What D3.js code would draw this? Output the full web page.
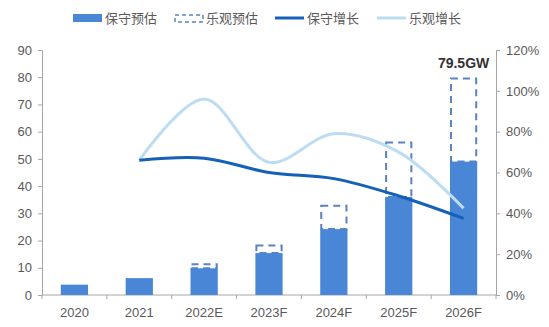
<!DOCTYPE html>
<html>
<head>
<meta charset="utf-8">
<script src="https://cdn.jsdelivr.net/npm/d3@7"></script>
<style>
    body { margin: 0; background: #fff; }
    svg { display: block; }
</style>
</head>
<body>
<svg id="my-svg"></svg>
<script>
const categories = ["2020", "2021", "2022E", "2023F", "2024F", "2025F", "2026F"];
const conservative = [3.8, 6.2, 9.8, 15.4, 24.2, 36, 49];
const optimistic = [null, null, 11.3, 18.2, 32.8, 56, 79.5];
const growthConservative = [null, 66, 67, 60, 57, 48.5, 37.5];
const growthOptimistic = [null, 66, 96, 65, 79, 70, 42.5];
const leftTicks = [0, 10, 20, 30, 40, 50, 60, 70, 80, 90];
const rightTicks = [0, 20, 40, 60, 80, 100, 120];
const legendNames = ["保守预估", "乐观预估", "保守增长", "乐观增长"];

const width = 549, height = 327;
const margin = { top: 50, right: 53, bottom: 32, left: 42 };
const innerWidth = width - margin.left - margin.right;
const innerHeight = height - margin.top - margin.bottom;

const barColor = "#4a86d6";
const dashColor = "#5b82c0";
const darkLine = "#1560b8";
const lightLine = "#bcdcf2";
const axisColor = "#a6a6a6";
const textColor = "#595959";

const svg = d3.select("#my-svg")
    .attr("width", width)
    .attr("height", height);

const g = svg.append("g")
    .attr("transform", `translate(${margin.left},${margin.top})`);

const x = d3.scaleBand()
    .domain(categories)
    .range([0, innerWidth])
    .paddingInner(0.58)
    .paddingOuter(0.29);

const band = d3.scaleBand().domain(categories).range([0, innerWidth]);

const y = d3.scaleLinear().domain([0, 90]).range([innerHeight, 0]);
const y2 = d3.scaleLinear().domain([0, 120]).range([innerHeight, 0]);

// axes
const xAxis = g.append("g")
    .attr("transform", `translate(0,${innerHeight})`);
xAxis.append("line")
    .attr("x1", 0).attr("x2", innerWidth)
    .attr("stroke", axisColor);
xAxis.selectAll(".tick")
    .data(d3.range(0, categories.length + 1))
    .enter().append("line")
    .attr("x1", i => i * band.bandwidth())
    .attr("x2", i => i * band.bandwidth())
    .attr("y1", 0).attr("y2", 4)
    .attr("stroke", axisColor);
xAxis.selectAll("text")
    .data(categories)
    .enter().append("text")
    .attr("x", d => band(d) + band.bandwidth() / 2)
    .attr("y", 22)
    .attr("text-anchor", "middle")
    .attr("font-family", "Liberation Sans, Arial, sans-serif")
    .attr("font-size", 13)
    .attr("fill", textColor)
    .text(d => d);

const yAxis = g.append("g")
    .call(d3.axisLeft(y).tickValues(leftTicks).tickSize(4).tickPadding(6).tickSizeOuter(4));
const y2Axis = g.append("g")
    .attr("transform", `translate(${innerWidth},0)`)
    .call(d3.axisRight(y2).tickValues(rightTicks).tickSize(4).tickPadding(6).tickSizeOuter(4)
        .tickFormat(d => d + "%"));

[yAxis, y2Axis].forEach(a => {
    a.selectAll("path, line").attr("stroke", axisColor);
    a.selectAll("text")
        .attr("font-family", "Liberation Sans, Arial, sans-serif")
        .attr("font-size", 13)
        .attr("fill", textColor);
});

// dashed optimistic bars
g.selectAll(".opt")
    .data(categories.map((c, i) => ({ c, lo: conservative[i], hi: optimistic[i] })).filter(d => d.hi != null))
    .enter().append("rect")
    .attr("class", "opt")
    .attr("x", d => x(d.c) + 1)
    .attr("width", x.bandwidth() - 2)
    .attr("y", d => y(d.hi))
    .attr("height", d => y(d.lo) - y(d.hi))
    .attr("fill", "none")
    .attr("stroke", dashColor)
    .attr("stroke-width", 2)
    .attr("stroke-dasharray", "7,5");

// solid conservative bars
g.selectAll(".cons")
    .data(categories.map((c, i) => ({ c, v: conservative[i] })))
    .enter().append("rect")
    .attr("class", "cons")
    .attr("x", d => x(d.c))
    .attr("width", x.bandwidth())
    .attr("y", d => y(d.v))
    .attr("height", d => innerHeight - y(d.v))
    .attr("fill", barColor);

// growth lines
const line = d3.line()
    .defined(d => d.v != null)
    .x(d => band(d.c) + band.bandwidth() / 2)
    .y(d => y2(d.v))
    .curve(d3.curveCatmullRom.alpha(0.5));

g.append("path")
    .datum(categories.map((c, i) => ({ c, v: growthOptimistic[i] })).filter(d => d.v != null))
    .attr("d", line)
    .attr("fill", "none")
    .attr("stroke", lightLine)
    .attr("stroke-width", 3);

g.append("path")
    .datum(categories.map((c, i) => ({ c, v: growthConservative[i] })).filter(d => d.v != null))
    .attr("d", line)
    .attr("fill", "none")
    .attr("stroke", darkLine)
    .attr("stroke-width", 3);

// top label
const last = categories[categories.length - 1];
g.append("text")
    .attr("x", x(last) + x.bandwidth() / 2)
    .attr("y", y(optimistic[optimistic.length - 1]) - 11)
    .attr("text-anchor", "middle")
    .attr("font-family", "Liberation Sans, Arial, sans-serif")
    .attr("font-size", 14)
    .attr("font-weight", "bold")
    .attr("fill", "#333")
    .text(last ? "79.5GW" : "");

// legend
const legendX = [73, 174, 275, 377];
const legend = svg.append("g").attr("transform", "translate(0,18)");
legendNames.forEach((name, i) => {
    const lg = legend.append("g").attr("transform", `translate(${legendX[i]},0)`);
    if (i === 0) {
        lg.append("rect").attr("x", 0).attr("y", -4).attr("width", 29).attr("height", 8).attr("fill", barColor);
    } else if (i === 1) {
        lg.append("rect").attr("x", 1).attr("y", -3).attr("width", 28).attr("height", 7)
            .attr("fill", "none").attr("stroke", dashColor).attr("stroke-width", 1.5)
            .attr("stroke-dasharray", "4,3");
    } else {
        lg.append("line").attr("x1", 0).attr("x2", 29).attr("y1", 0).attr("y2", 0)
            .attr("stroke", i === 2 ? darkLine : lightLine).attr("stroke-width", 3);
    }
    lg.append("text")
        .attr("x", 32)
        .attr("y", 5)
        .attr("font-family", "Noto Sans CJK SC, sans-serif")
        .attr("font-size", 13)
        .attr("fill", textColor)
        .text(name);
});
</script>
</body>
</html>
